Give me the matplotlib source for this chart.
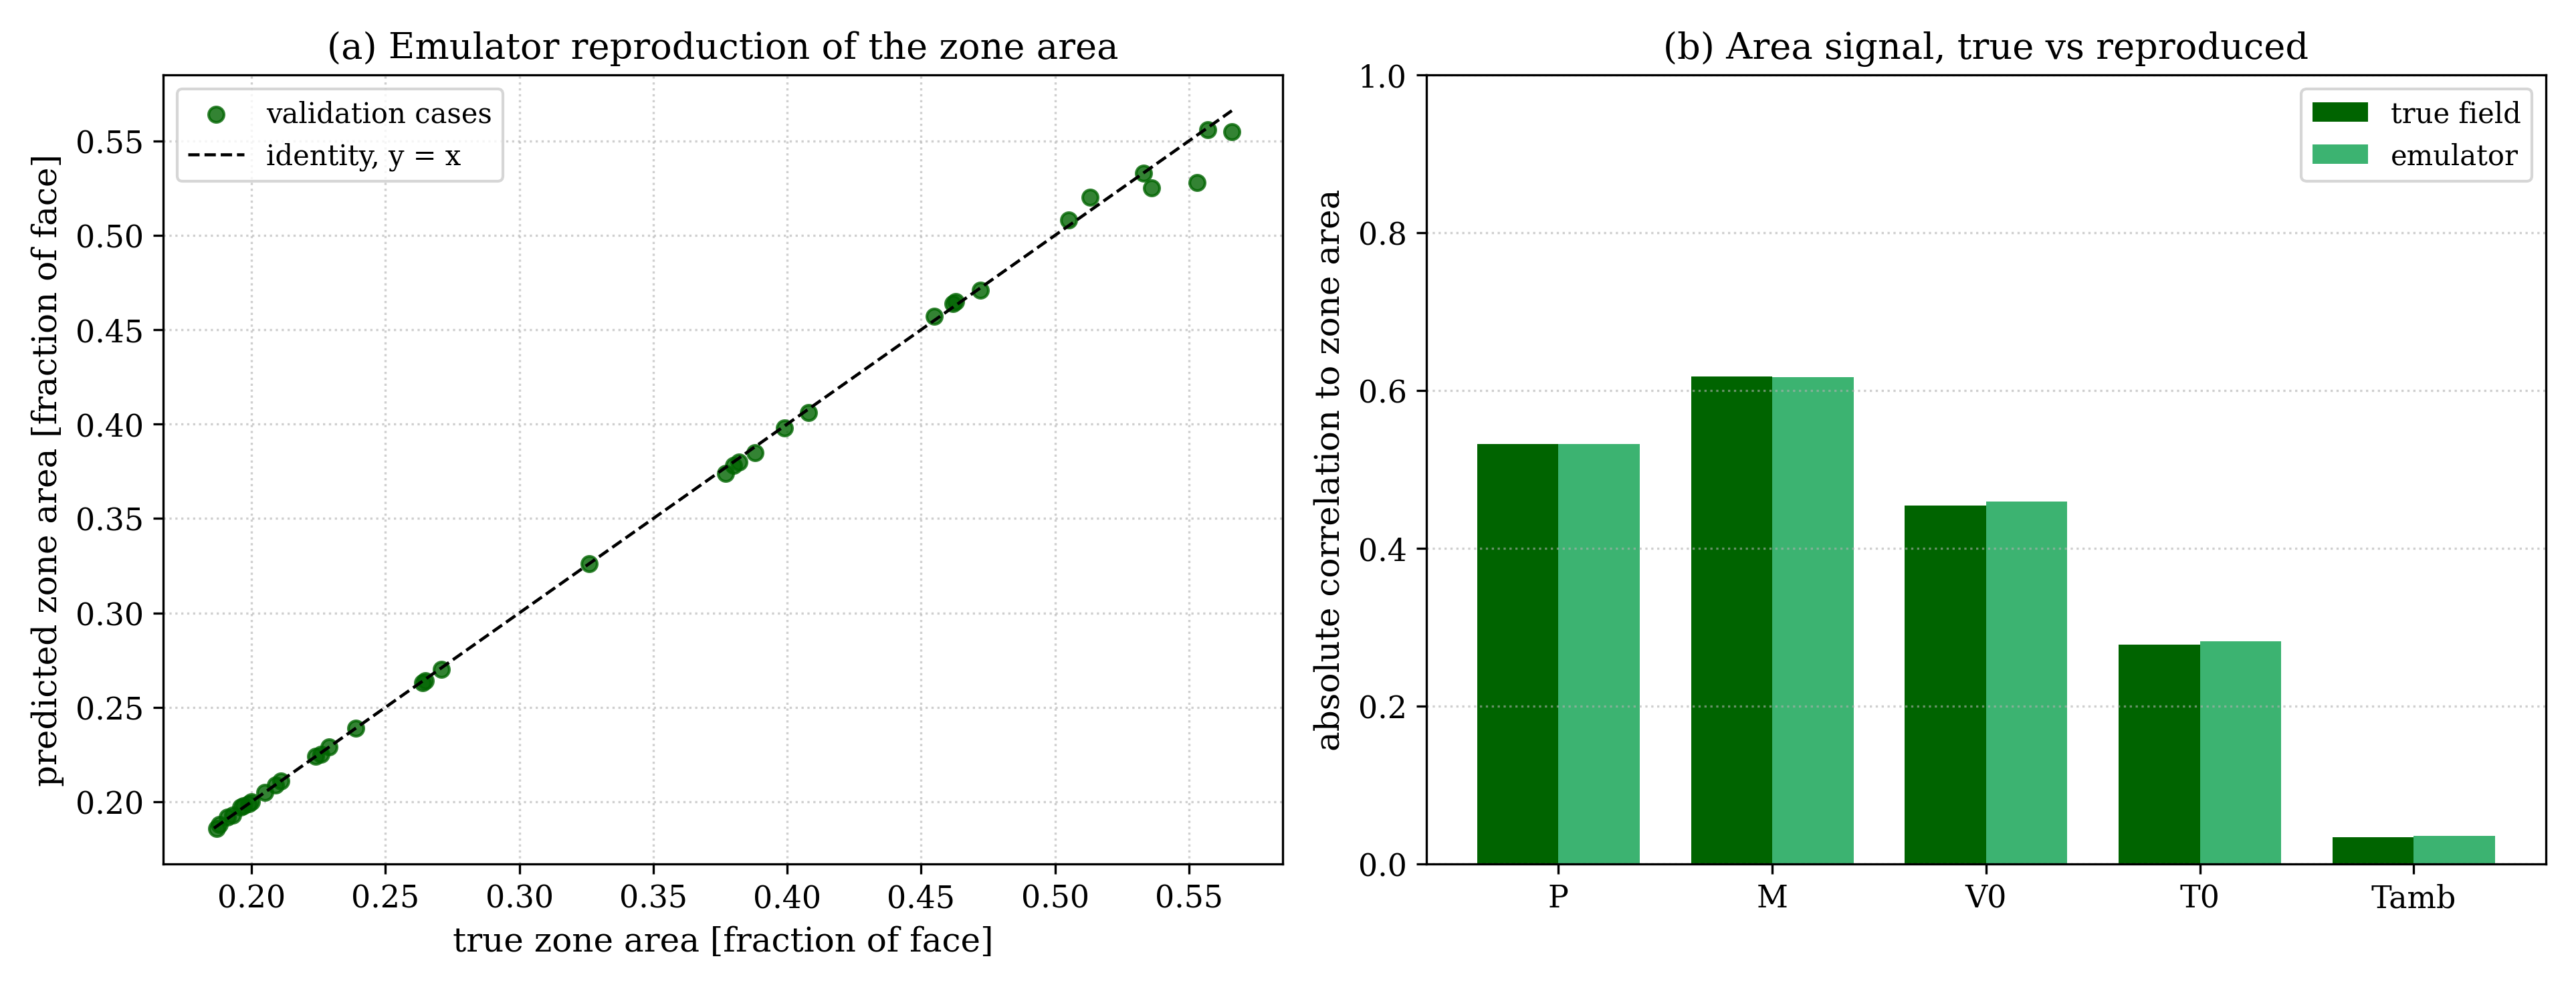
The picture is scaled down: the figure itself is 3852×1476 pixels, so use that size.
import matplotlib
matplotlib.use("Agg")
import matplotlib.pyplot as plt
import numpy as np

plt.rcParams['font.family'] = ['DejaVu Serif']

# validation cases: true vs predicted zone area
true_area = [0.187, 0.188, 0.191, 0.193, 0.196, 0.197, 0.199, 0.200, 0.205, 0.209,
             0.211, 0.224, 0.226, 0.229, 0.239, 0.264, 0.265, 0.271, 0.326, 0.377,
             0.380, 0.382, 0.388, 0.399, 0.408, 0.455, 0.462, 0.463, 0.472, 0.505,
             0.513, 0.533, 0.536, 0.553, 0.557, 0.566]
pred_area = [0.186, 0.188, 0.192, 0.193, 0.197, 0.198, 0.199, 0.200, 0.205, 0.209,
             0.211, 0.224, 0.225, 0.229, 0.239, 0.263, 0.264, 0.270, 0.326, 0.374,
             0.378, 0.380, 0.385, 0.398, 0.406, 0.457, 0.464, 0.465, 0.471, 0.508,
             0.520, 0.533, 0.525, 0.528, 0.556, 0.555]

# correlation of each input with zone area
params = ['P', 'M', 'V0', 'T0', 'Tamb']
corr_true = [0.532, 0.618, 0.454, 0.278, 0.034]
corr_emul = [0.532, 0.617, 0.459, 0.282, 0.036]

fig, (ax1, ax2) = plt.subplots(1, 2, figsize=(12.84, 4.923))

ax1.scatter(true_area, pred_area, s=30, color='darkgreen', alpha=0.8,
            label='validation cases', zorder=3)
lo = min(min(true_area), min(pred_area))
hi = max(max(true_area), max(pred_area))
ax1.plot([lo, hi], [lo, hi], 'k--', lw=1.1, label='identity, y = x', zorder=4)
ax1.set_xlabel('true zone area [fraction of face]', fontsize=12)
ax1.set_ylabel('predicted zone area [fraction of face]', fontsize=12)
ax1.set_title('(a) Emulator reproduction of the zone area', fontsize=13)
ax1.grid(True, linestyle=':', alpha=0.6)
ax1.legend(loc='upper left', fontsize=10)
ax1.tick_params(labelsize=11)

x = np.arange(len(params))
w = 0.38
ax2.bar(x - w/2, corr_true, w, color='darkgreen', label='true field')
ax2.bar(x + w/2, corr_emul, w, color='mediumseagreen', label='emulator')
ax2.set_xticks(x)
ax2.set_xticklabels(params)
ax2.set_ylim(0, 1)
ax2.set_ylabel('absolute correlation to zone area', fontsize=12)
ax2.set_title('(b) Area signal, true vs reproduced', fontsize=13)
ax2.grid(True, axis='y', linestyle=':', alpha=0.6)
ax2.legend(loc='upper right', fontsize=10)
ax2.tick_params(labelsize=11)

plt.tight_layout()
plt.savefig('out.png', dpi=300)
